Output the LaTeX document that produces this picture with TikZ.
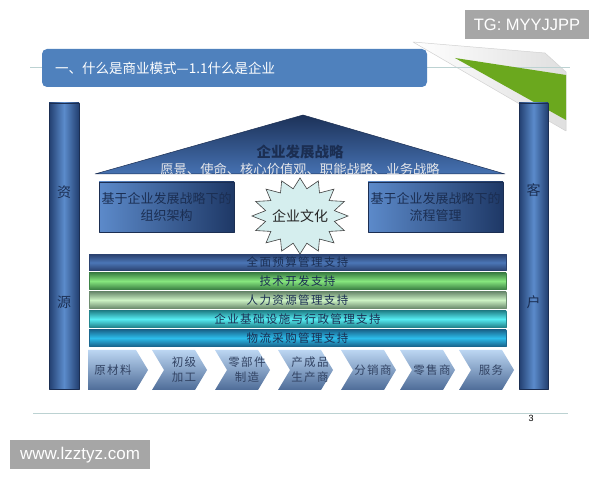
\documentclass[tikz,border=0pt]{standalone}
\usepackage{fontspec}
\setmainfont{Liberation Sans}
\newfontfamily\cjk{Noto Sans CJK SC}
\newfontfamily\cjkwide{Noto Sans CJK SC}[LetterSpace=12]
\definecolor{titleblue}{HTML}{4F81BD}
\definecolor{markgray}{HTML}{A6A6A6}
\definecolor{rulegray}{HTML}{BCD2D2}
\definecolor{leafgreen}{HTML}{6BA81E}
\definecolor{navy}{HTML}{1B2E52}
\definecolor{pillarmid}{HTML}{5B8BCB}
\definecolor{pillaredge}{HTML}{223F70}
\definecolor{roofdark}{HTML}{1C3158}
\definecolor{roofblue}{HTML}{4672B2}
\definecolor{boxlight}{HTML}{5C8ACA}
\definecolor{boxdark}{HTML}{1E3866}
\definecolor{starfill}{HTML}{D5EEEE}
\definecolor{chevtop}{HTML}{BCD6F2}
\definecolor{chevbot}{HTML}{4E6C98}
\definecolor{barblue}{HTML}{4B76B6}
\definecolor{barblueedge}{HTML}{2B4270}
\definecolor{bargreen}{HTML}{86E67E}
\definecolor{bargreenedge}{HTML}{3E8446}
\definecolor{barpale}{HTML}{CCF2C4}
\definecolor{barpaleedge}{HTML}{6E8E70}
\definecolor{barcyan}{HTML}{56ECF2}
\definecolor{barcyanedge}{HTML}{23868E}
\definecolor{barsky}{HTML}{2CBCEA}
\definecolor{barskyedge}{HTML}{1A6890}

\begin{document}
\begin{tikzpicture}[line join=bevel,
  cjktext/.style={font=\cjk\fontsize{14bp}{17bp}\selectfont, text=navy, align=center, inner sep=0bp},
  supportbar/.style={minimum width=417bp, minimum height=16bp, inner sep=0bp, line width=0.4bp, font=\cjkwide\fontsize{11.5bp}{14bp}\selectfont, text=navy},
  pillar/.style={left color=pillaredge, right color=pillaredge, middle color=pillarmid, draw=navy, line width=0.6bp},
  chevron/.style={top color=chevtop, bottom color=chevbot},
  chevtext/.style={font=\cjkwide\fontsize{11.5bp}{15bp}\selectfont, text=navy!90, align=center, inner sep=0bp},
  stratbox/.style={minimum width=135bp, minimum height=50bp, left color=boxlight, right color=boxdark, draw=navy, line width=0.6bp, font=\cjk\fontsize{13bp}{17bp}\selectfont, text=navy, align=center, inner sep=0bp}]
%%
\useasboundingbox (0bp,0bp) rectangle (600bp,480bp);
\fill [white] (0bp,0bp) rectangle (600bp,480bp);
\shade [left color=white, right color=gray!25, draw=gray!35, line width=0.5bp] (413bp,438bp) -- (545bp,427bp) -- (566bp,408bp) -- (566bp,349bp) -- cycle;
\draw [rulegray, line width=1bp] (30bp,412bp) -- (570bp,412bp);
\fill [leafgreen] (455bp,422bp) -- (566bp,405bp) -- (566bp,360bp) -- cycle;
\fill [titleblue, rounded corners=5bp] (42bp,393bp) rectangle (427bp,431bp);
\node (node_title) at (55bp,412bp) [anchor=west, text=white, font=\cjk\fontsize{13.5bp}{16bp}\selectfont, inner sep=0bp] {一、什么是商业模式—1.1什么是企业};
\node (node_tg) at (527bp,455.5bp) [fill=markgray, minimum width=124bp, minimum height=29bp, text=white, font=\fontsize{16.5bp}{18bp}\selectfont] {TG: MYYJJPP};
\node (node_www) at (80bp,25bp) [fill=markgray, minimum width=140bp, minimum height=29bp, text=white, font=\fontsize{17bp}{19bp}\selectfont] {www.lzztyz.com};
\shade [pillar] (49bp,91bp) rectangle (79bp,377bp);
\shade [pillar] (519bp,91bp) rectangle (548bp,377bp);
\node (node_zi) at (64bp,288bp) [cjktext] {资};
\node (node_yuan) at (64bp,178bp) [cjktext] {源};
\node (node_ke) at (533.5bp,290bp) [cjktext] {客};
\node (node_hu) at (533.5bp,178bp) [cjktext] {户};
\shade [top color=roofdark, bottom color=roofblue, draw=navy, line width=0.5bp] (95bp,306bp) -- (303bp,365bp) -- (505bp,306bp) -- cycle;
\node (node_strategy) at (300bp,328bp) [cjktext, font=\cjk\bfseries\fontsize{14.5bp}{17bp}\selectfont] {企业发展战略};
\node (node_vision) at (300bp,311bp) [cjktext, text=white!88!navy, font=\cjk\fontsize{13.3bp}{16bp}\selectfont] {愿景、使命、核心价值观、职能战略、业务战略};
\node (node_org) at (166.5bp,273bp) [stratbox] {基于企业发展战略下的\\组织架构};
\node (node_flow) at (435.5bp,273bp) [stratbox] {基于企业发展战略下的\\流程管理};
\draw [x=1bp, y=1bp, fill=starfill, draw=black!75, line width=0.6bp, line join=miter] plot [samples at={0,...,31}, variable=\k] ({300+(1-0.27*mod(\k,2))*48*cos(90+11.25*\k)}, {264+(1-0.27*mod(\k,2))*38*sin(90+11.25*\k)}) -- cycle;
\node (node_culture) at (300bp,264bp) [cjktext, text=black!85] {企业文化};
\node (node_budget) at (297.5bp,217.5bp) [supportbar, draw=barblueedge, top color=barblueedge, bottom color=barblueedge, middle color=barblue] {全面预算管理支持};
\node (node_tech) at (297.5bp,199bp) [supportbar, draw=bargreenedge, top color=bargreenedge, bottom color=bargreenedge, middle color=bargreen] {技术开发支持};
\node (node_hr) at (297.5bp,180bp) [supportbar, draw=barpaleedge, top color=barpaleedge, bottom color=barpaleedge, middle color=barpale] {人力资源管理支持};
\node (node_infra) at (297.5bp,161bp) [supportbar, draw=barcyanedge, top color=barcyanedge, bottom color=barcyanedge, middle color=barcyan] {企业基础设施与行政管理支持};
\node (node_buy) at (297.5bp,142bp) [supportbar, draw=barskyedge, top color=barskyedge, bottom color=barskyedge, middle color=barsky] {物流采购管理支持};
\shade [chevron] (88bp,90bp) -- (88bp,130bp) -- (136bp,130bp) -- (148bp,110bp) -- (136bp,90bp) -- cycle;
\node (node_raw) at (113bp,110bp) [chevtext] {原材料};
\foreach \xa/\name/\label in {152/node_primary/{初级\\加工}, 215/node_parts/{零部件\\制造}, 278/node_maker/{产成品\\生产商}, 341/node_dist/分销商, 400/node_retail/零售商, 459/node_service/服务} {
  \shade [chevron] (\xa bp,90bp) -- ++(12bp,20bp) -- ++(-12bp,20bp) -- ++(43bp,0bp) -- ++(12bp,-20bp) -- ++(-12bp,-20bp) -- cycle;
  \node (\name) at ([xshift=32bp]\xa bp,110bp) [chevtext] {\label};
}
\draw [rulegray, line width=1bp] (33bp,66bp) -- (568bp,66bp);
\node (node_page) at (531bp,62bp) [font=\fontsize{9bp}{10bp}\selectfont, inner sep=0bp] {3};
%
\end{tikzpicture}
\end{document}
